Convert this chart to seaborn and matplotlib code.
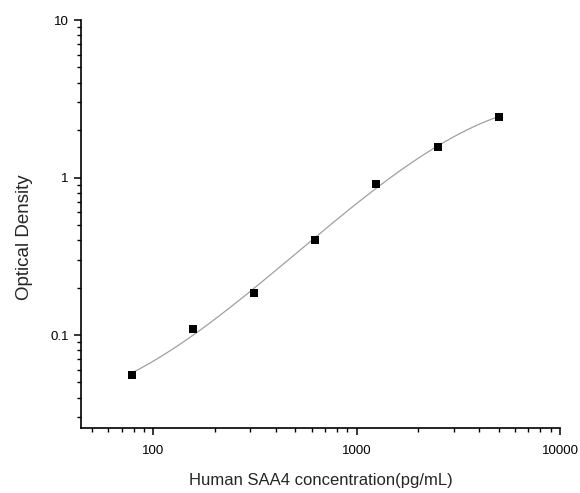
import numpy as np
import pandas as pd
import matplotlib
matplotlib.use("Agg")
import matplotlib.pyplot as plt
import seaborn as sns
from matplotlib.ticker import LogLocator, NullFormatter, FuncFormatter

# standard curve points
conc = [78.125, 156.25, 312.5, 625, 1250, 2500, 5000]
od = [0.0557, 0.1087, 0.185, 0.403, 0.905, 1.57, 2.43]

df = pd.DataFrame({"conc": conc, "od": od})

# smooth fitted curve (cubic in log-log space)
coef = np.polyfit(np.log10(conc), np.log10(od), 3)
xs = np.logspace(np.log10(conc[0]), np.log10(conc[-1]), 200)
fit = pd.DataFrame({"conc": xs, "od": 10 ** np.polyval(coef, np.log10(xs))})

sns.set_style("ticks")
plt.rcParams["font.family"] = ["Liberation Sans", "DejaVu Sans"]

fig = plt.figure(figsize=(5.8, 4.93), dpi=100)
ax = fig.add_axes([0.1397, 0.1318, 0.8258, 0.8276])

sns.lineplot(data=fit, x="conc", y="od", ax=ax, color="#a0a0a0", linewidth=0.9)
sns.scatterplot(data=df, x="conc", y="od", ax=ax, marker="s", color="black",
                s=32, edgecolor="black", linewidth=0, zorder=3)

ax.set_xscale("log")
ax.set_yscale("log")
ax.set_xlim(44.1, 10000)
ax.set_ylim(0.0257, 10)

ax.xaxis.set_major_locator(LogLocator(base=10))
ax.xaxis.set_minor_locator(LogLocator(base=10, subs=np.arange(2, 10)))
ax.yaxis.set_major_locator(LogLocator(base=10))
ax.yaxis.set_minor_locator(LogLocator(base=10, subs=np.arange(2, 10)))
ax.xaxis.set_major_formatter(FuncFormatter(lambda v, p: f"{v:g}"))
ax.yaxis.set_major_formatter(FuncFormatter(lambda v, p: f"{v:g}"))
ax.xaxis.set_minor_formatter(NullFormatter())
ax.yaxis.set_minor_formatter(NullFormatter())

sns.despine(ax=ax)
for s in ["left", "bottom"]:
    ax.spines[s].set_linewidth(1.2)
    ax.spines[s].set_color("black")
ax.tick_params(which="major", direction="out", length=5, width=1.1,
               labelsize=9.5, colors="black")
ax.tick_params(axis="x", which="major", pad=7)
ax.tick_params(axis="y", which="major", pad=4)
ax.tick_params(which="minor", direction="out", length=3, width=1.0, colors="black")

ax.set_xlabel("Human SAA4 concentration(pg/mL)", fontsize=12, labelpad=12)
ax.set_ylabel("Optical Density", fontsize=13.5)
ax.yaxis.set_label_coords(-0.10, 0.468)

fig.savefig("out.png", dpi=100)
